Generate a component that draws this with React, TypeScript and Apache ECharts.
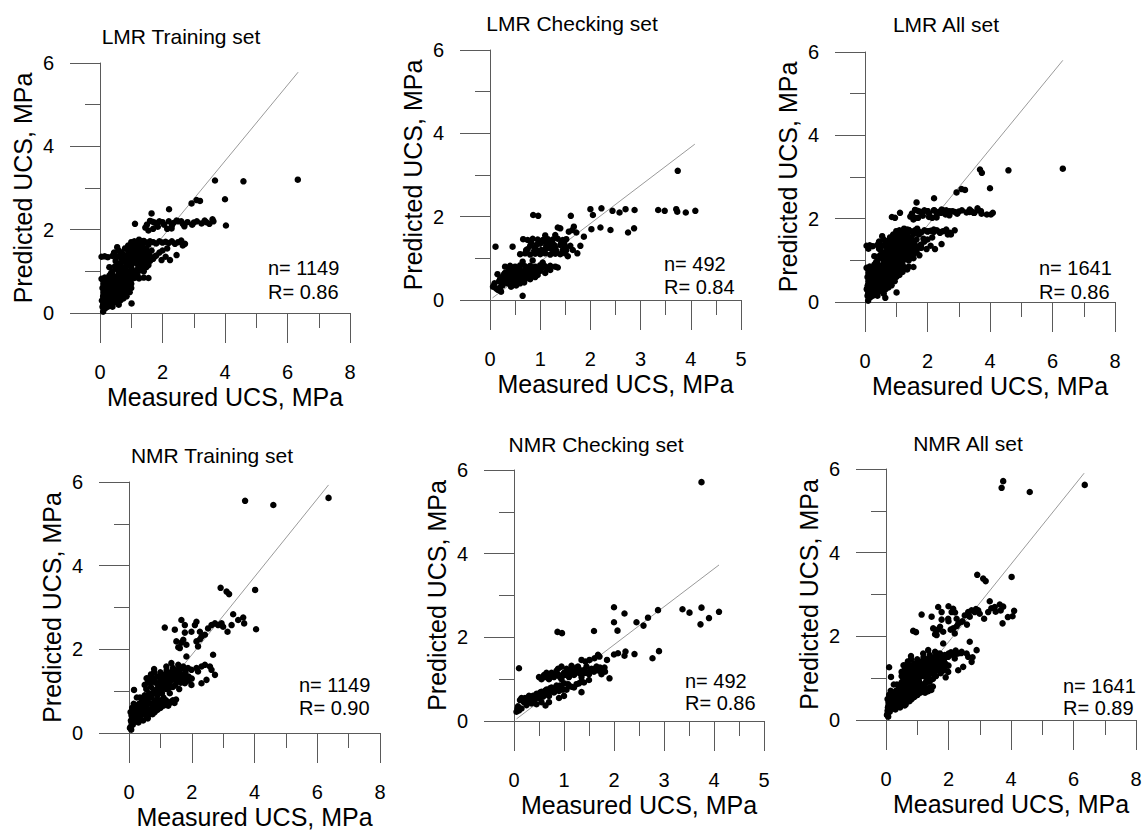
import React, { useEffect, useRef } from "react";
import * as echarts from "echarts";

const FONT = '"Liberation Sans", Arial, Helvetica, sans-serif';

// Measured vs predicted UCS (MPa)
const lmrTrain: number[][] = [
  [6.33, 3.2], [4.59, 3.16], [3.68, 3.18], [4.0, 2.73], [4.03, 2.1], [2.93, 2.63], [3.09, 2.71], [3.2, 2.69],
  [2.21, 2.49], [1.65, 2.39], [1.12, 2.14], [3.63, 2.2], [3.6, 2.25], [3.4, 2.18], [3.25, 2.15], [3.1, 2.2],
  [2.95, 2.12], [2.8, 2.18], [2.65, 2.14], [2.5, 2.2], [2.35, 2.16], [2.2, 2.2], [2.05, 2.12], [1.9, 2.2],
  [1.75, 2.17], [1.6, 2.21], [1.5, 2.12], [1.45, 2.05], [1.55, 1.98], [1.7, 2.02], [1.85, 2.07], [2.15, 2.02],
  [2.3, 2.1], [2.45, 2.22], [2.7, 2.08], [3.35, 2.22], [3.5, 2.14], [1.68, 2.19], [1.82, 2.14], [2.0, 2.18],
  [2.6, 2.2], [3.0, 2.17], [2.29, 2.03],
  [1.0, 1.7], [1.1, 1.72], [1.2, 1.68], [1.3, 1.71], [1.4, 1.73], [1.5, 1.69], [1.6, 1.72], [1.7, 1.7],
  [1.8, 1.67], [1.9, 1.72], [2.0, 1.69], [2.1, 1.71], [2.2, 1.68], [2.3, 1.72], [2.4, 1.66], [2.5, 1.7],
  [2.6, 1.74], [2.72, 1.66], [2.65, 1.62], [1.35, 1.62], [1.55, 1.64], [1.25, 1.76],
  [1.8, 1.38], [1.9, 1.45], [2.0, 1.5], [2.1, 1.35], [2.24, 1.27], [2.45, 1.39], [1.97, 1.27], [2.15, 1.55],
  [0.05, 1.35], [0.15, 1.36], [0.25, 1.34], [0.4, 1.37], [0.55, 1.35], [0.7, 1.36], [0.85, 1.33], [1.0, 1.36],
  [1.2, 1.35], [1.4, 1.37], [1.6, 1.34], [1.76, 1.36],
  [0.6, 1.5], [0.7, 1.45], [0.8, 1.55], [0.9, 1.5], [1.0, 1.58], [1.1, 1.5], [1.2, 1.45], [1.3, 1.55],
  [1.4, 1.5], [1.5, 1.45], [0.75, 1.25], [0.85, 1.2], [0.95, 1.3], [1.05, 1.25], [1.15, 1.2], [1.25, 1.3],
  [1.35, 1.25], [1.45, 1.2], [1.55, 1.15], [0.7, 1.1], [0.8, 1.05], [0.9, 1.15], [1.0, 1.1], [1.1, 1.0],
  [1.2, 1.05], [1.3, 1.1], [1.4, 1.0], [0.6, 0.95], [0.7, 0.9], [0.8, 0.98], [0.9, 0.92], [1.0, 0.95],
  [1.1, 0.88], [1.2, 0.9], [0.65, 1.2], [0.55, 1.05], [0.5, 1.25], [0.45, 1.45], [1.6, 1.25], [1.7, 1.3],
  [1.65, 1.5], [0.95, 1.6], [1.15, 1.62], [0.88, 1.4], [1.05, 1.42], [1.25, 1.4], [0.62, 1.38], [0.55, 1.58],
  [0.3, 1.1], [0.4, 1.0], [0.35, 0.95],
  [0.05, 0.82], [0.15, 0.85], [0.25, 0.8], [0.35, 0.84], [0.45, 0.86], [0.55, 0.83], [0.65, 0.81], [0.75, 0.85],
  [0.85, 0.82], [0.95, 0.86], [1.1, 0.84], [1.25, 0.83], [1.4, 0.85], [1.55, 0.84],
  [0.1, 0.2], [0.15, 0.3], [0.2, 0.25], [0.1, 0.4], [0.2, 0.45], [0.3, 0.35], [0.35, 0.5], [0.25, 0.6],
  [0.4, 0.4], [0.45, 0.6], [0.5, 0.5], [0.55, 0.7], [0.6, 0.55], [0.65, 0.65], [0.7, 0.75], [0.75, 0.6],
  [0.8, 0.7], [0.85, 0.55], [0.9, 0.68], [0.5, 0.3], [0.6, 0.4], [0.3, 0.7], [0.4, 0.75], [0.15, 0.6],
  [0.12, 0.7], [0.08, 0.15], [0.18, 0.12], [0.35, 0.2], [0.45, 0.25], [0.7, 0.45], [1.0, 0.6], [1.0, 0.7],
  [0.95, 0.5], [0.55, 0.3], [0.1, 0.03], [1.01, 0.23], [0.65, 0.3],
  [0.12, 0.5], [0.18, 0.38], [0.22, 0.55], [0.28, 0.42], [0.32, 0.62], [0.38, 0.3], [0.42, 0.52], [0.48, 0.68],
  [0.52, 0.42], [0.58, 0.6], [0.62, 0.78], [0.68, 0.52], [0.72, 0.66], [0.78, 0.5], [0.82, 0.78], [0.88, 0.62],
  [0.92, 0.8], [0.98, 0.75], [0.28, 0.78], [0.38, 0.65], [0.48, 0.8], [0.58, 0.88], [0.68, 0.95], [0.78, 0.9],
  [0.88, 1.0], [0.98, 1.02], [1.08, 0.95], [1.18, 0.98], [1.28, 1.02], [1.38, 1.08], [1.48, 1.1], [0.72, 1.02],
  [0.82, 1.12], [0.92, 1.22], [1.02, 1.18], [1.12, 1.28], [1.22, 1.15], [1.32, 1.18], [1.42, 1.28], [1.52, 1.32],
  [0.68, 1.32], [0.78, 1.38], [0.98, 1.45], [1.08, 1.35], [1.18, 1.55], [1.28, 1.48], [1.38, 1.42], [1.48, 1.55],
  [1.58, 1.4], [0.58, 1.15], [0.48, 1.12], [0.42, 0.9], [0.2, 0.7], [0.08, 0.6], [0.06, 0.3], [0.14, 0.1],
  [0.25, 0.15], [0.4, 0.15], [0.22, 0.35], [0.32, 0.25], [0.6, 0.2], [0.75, 0.35], [0.85, 0.4], [0.12, 0.82],
  [0.3, 0.9], [1.12, 1.62], [0.9, 1.62], [1.3, 1.65],
];

const lmrCheck: number[][] = [
  [0.86, 2.04], [0.96, 2.02], [1.61, 2.02], [2.0, 2.18], [2.22, 2.2], [2.05, 2.04], [2.44, 2.14], [2.58, 2.1],
  [2.7, 2.18], [2.88, 2.16], [3.35, 2.16], [3.48, 2.14], [3.71, 2.18], [3.73, 2.12], [3.9, 2.1], [4.09, 2.14],
  [3.74, 3.1], [2.02, 1.7], [2.2, 1.74], [2.4, 1.68], [2.75, 1.62], [2.87, 1.72], [1.87, 1.52], [1.8, 1.3],
  [1.74, 1.12], [1.64, 1.68], [1.67, 1.76], [1.57, 1.64], [1.4, 1.72], [1.35, 1.74], [1.72, 1.62],
  [0.66, 1.46], [0.75, 1.44], [0.85, 1.47], [0.95, 1.45], [1.05, 1.44], [1.15, 1.46], [1.25, 1.45], [1.35, 1.47],
  [1.45, 1.44], [1.52, 1.46], [1.1, 1.55], [1.3, 1.56],
  [0.6, 1.1], [0.7, 1.12], [0.8, 1.09], [0.9, 1.11], [1.0, 1.1], [1.1, 1.12], [1.2, 1.09], [1.3, 1.11],
  [1.4, 1.1], [1.5, 1.12], [1.55, 1.05],
  [0.8, 1.3], [0.9, 1.25], [1.0, 1.35], [1.1, 1.22], [1.2, 1.3], [1.3, 1.25], [1.4, 1.32], [1.5, 1.28],
  [0.95, 1.18], [1.15, 1.38], [1.25, 1.2], [1.45, 1.2], [1.6, 1.3], [1.65, 1.2], [0.75, 1.22],
  [0.11, 1.28], [0.45, 1.28],
  [0.3, 0.8], [0.4, 0.82], [0.5, 0.8], [0.6, 0.83], [0.7, 0.81], [0.8, 0.82], [0.9, 0.8], [1.0, 0.83],
  [1.1, 0.81], [1.2, 0.82], [1.3, 0.8], [1.35, 0.78], [1.05, 0.9], [0.85, 0.95], [0.65, 0.92],
  [0.2, 0.5], [0.25, 0.55], [0.3, 0.45], [0.35, 0.6], [0.4, 0.5], [0.45, 0.65], [0.5, 0.55], [0.55, 0.7],
  [0.6, 0.6], [0.65, 0.5], [0.7, 0.68], [0.75, 0.58], [0.8, 0.7], [0.85, 0.62], [0.9, 0.72], [0.95, 0.6],
  [1.0, 0.7], [1.1, 0.65], [1.2, 0.72], [0.35, 0.4], [0.45, 0.38], [0.55, 0.45], [0.6, 0.4], [0.7, 0.5],
  [0.3, 0.65], [0.4, 0.7], [0.5, 0.72], [0.25, 0.35], [0.15, 0.62], [0.65, 0.1], [0.06, 0.32], [0.09, 0.4],
  [0.16, 0.24], [0.12, 0.28], [0.22, 0.2], [0.2, 0.3], [0.8, 0.5], [0.9, 0.55],
  [0.22, 0.42], [0.28, 0.5], [0.32, 0.58], [0.38, 0.52], [0.42, 0.62], [0.48, 0.45], [0.52, 0.62], [0.58, 0.52],
  [0.62, 0.7], [0.68, 0.58], [0.72, 0.75], [0.78, 0.62], [0.82, 0.75], [0.88, 0.68], [0.92, 0.78], [0.98, 0.72],
  [1.05, 0.78], [1.15, 0.75], [0.38, 0.72], [0.48, 0.75], [0.58, 0.78], [0.28, 0.62], [0.18, 0.45], [0.42, 0.32],
  [0.52, 0.35], [0.68, 0.42], [0.78, 0.55], [0.72, 1.2], [0.82, 1.38], [0.92, 1.32], [1.02, 1.2], [1.12, 1.3],
  [1.22, 1.38], [1.32, 1.18], [1.42, 1.38], [1.52, 1.2], [0.88, 1.18], [1.08, 1.4], [1.28, 1.32], [1.48, 1.36],
  [0.98, 1.4], [1.18, 1.25],
];

const nmrTrain: number[][] = [
  [3.7, 5.55], [4.6, 5.45], [6.36, 5.62], [2.92, 3.47], [3.11, 3.38], [3.19, 3.32], [4.02, 3.42], [4.05, 2.48],
  [3.32, 2.84], [3.64, 2.76], [3.48, 2.7], [3.67, 2.62], [3.27, 2.58], [3.14, 2.42], [2.95, 2.62], [3.0, 2.54],
  [2.74, 2.62], [2.63, 2.58], [2.52, 2.5], [2.42, 2.35], [2.31, 2.3], [2.26, 2.42], [2.15, 2.66], [2.1, 2.58],
  [1.99, 2.42], [1.78, 2.4], [1.73, 2.23], [1.67, 2.16], [1.57, 2.05], [1.62, 2.03], [1.51, 2.19], [1.46, 2.47],
  [1.78, 2.58], [1.67, 2.7], [1.14, 2.52], [2.2, 2.07], [2.68, 1.87], [1.83, 1.83], [1.83, 2.11], [2.15, 2.19],
  [2.26, 2.24], [2.84, 2.58],
  [1.19, 1.59], [1.35, 1.67], [1.57, 1.63], [1.73, 1.59], [1.88, 1.55], [1.99, 1.51], [2.15, 1.55], [2.31, 1.59],
  [2.42, 1.63], [2.58, 1.59], [2.63, 1.51], [2.74, 1.39], [2.2, 1.47], [2.47, 1.27], [2.31, 1.19], [1.99, 1.15],
  [1.78, 1.19], [0.16, 1.03], [0.56, 1.31], [0.8, 1.53],
  [0.6, 1.2], [0.7, 1.1], [0.75, 1.3], [0.8, 1.0], [0.85, 1.2], [0.9, 1.35], [0.95, 1.1], [1.0, 1.25],
  [1.05, 0.95], [1.1, 1.15], [1.15, 1.4], [1.2, 1.05], [1.25, 1.3], [1.3, 1.2], [1.35, 1.45], [1.4, 1.1],
  [1.45, 1.35], [1.5, 1.25], [1.55, 1.45], [1.6, 1.3], [1.65, 1.2], [1.7, 1.4], [1.75, 1.3], [1.8, 1.45],
  [1.9, 1.35], [2.0, 1.3], [0.65, 0.95], [0.9, 0.9], [1.0, 1.45], [1.2, 1.5], [0.7, 1.4], [0.55, 1.05],
  [1.3, 0.95], [1.6, 1.05], [1.4, 1.55], [1.1, 0.85], [0.8, 1.45],
  [0.05, 0.15], [0.08, 0.25], [0.1, 0.35], [0.12, 0.2], [0.15, 0.45], [0.18, 0.55], [0.2, 0.3], [0.22, 0.65],
  [0.25, 0.4], [0.3, 0.5], [0.32, 0.7], [0.35, 0.35], [0.4, 0.6], [0.42, 0.45], [0.45, 0.75], [0.5, 0.55],
  [0.55, 0.4], [0.58, 0.68], [0.6, 0.8], [0.65, 0.55], [0.7, 0.7], [0.75, 0.45], [0.8, 0.62], [0.85, 0.78],
  [0.9, 0.55], [0.95, 0.7], [1.0, 0.6], [1.05, 0.75], [1.1, 0.65], [1.2, 0.7], [1.3, 0.72], [1.4, 0.78],
  [1.5, 0.8], [0.05, 0.5], [0.1, 0.6], [0.07, 0.08], [0.03, 0.12], [0.3, 0.25], [0.45, 0.3], [0.6, 0.35],
  [0.35, 0.85], [0.15, 0.7], [0.5, 0.9], [0.25, 0.85],
  [0.06, 0.3], [0.08, 0.42], [0.12, 0.55], [0.14, 0.3], [0.18, 0.42], [0.22, 0.5], [0.24, 0.28], [0.28, 0.6],
  [0.32, 0.4], [0.36, 0.55], [0.38, 0.72], [0.44, 0.5], [0.48, 0.65], [0.52, 0.48], [0.56, 0.6], [0.62, 0.72],
  [0.66, 0.45], [0.72, 0.58], [0.78, 0.72], [0.82, 0.5], [0.88, 0.68], [0.92, 0.62], [0.98, 0.78], [1.02, 0.68],
  [1.12, 0.72], [1.18, 0.78], [1.25, 0.65], [1.35, 0.75], [1.45, 0.72], [0.52, 0.8], [0.42, 0.82], [0.62, 0.92],
  [0.72, 0.85], [0.78, 0.95], [0.88, 1.05], [0.98, 0.98], [1.08, 1.05], [1.18, 1.18], [1.28, 1.08], [1.38, 1.28],
  [1.48, 1.15], [1.58, 1.38], [1.68, 1.32], [1.78, 1.4], [1.88, 1.25], [0.72, 1.22], [0.82, 1.3], [0.92, 1.18],
  [1.02, 1.35], [1.12, 1.28], [1.22, 1.42], [1.32, 1.35], [1.42, 1.42], [1.52, 1.5], [0.98, 1.12], [1.08, 1.22],
  [1.6, 1.5], [1.7, 1.55], [0.6, 1.3], [0.5, 1.15],
];

const nmrCheck: number[][] = [
  [3.75, 5.71], [2.0, 2.72], [2.21, 2.57], [2.0, 2.36], [2.07, 2.16], [2.45, 2.36], [2.59, 2.28], [2.68, 2.47],
  [2.88, 2.65], [3.37, 2.67], [3.51, 2.59], [3.75, 2.71], [3.73, 2.31], [3.9, 2.46], [4.1, 2.61],
  [0.87, 2.13], [0.96, 2.1], [1.6, 2.15],
  [2.0, 1.59], [2.08, 1.62], [2.21, 1.56], [2.23, 1.66], [2.41, 1.6], [2.77, 1.5], [2.9, 1.67],
  [1.86, 1.46], [1.81, 1.28], [1.91, 1.02], [1.78, 1.22], [1.68, 1.58], [1.61, 1.5], [1.71, 1.54], [1.51, 1.46],
  [1.43, 1.42], [1.35, 1.46], [0.1, 1.26], [1.35, 0.69], [0.63, 0.37],
  [0.5, 1.05], [0.6, 1.1], [0.7, 1.0], [0.75, 1.15], [0.8, 1.05], [0.85, 1.2], [0.9, 1.1], [0.95, 1.0],
  [1.0, 1.15], [1.05, 1.25], [1.1, 1.05], [1.15, 1.2], [1.2, 1.1], [1.25, 1.28], [1.3, 1.15], [1.35, 1.05],
  [1.4, 1.22], [1.45, 1.3], [1.5, 1.12], [1.55, 1.25], [1.6, 1.18], [1.65, 1.3], [1.7, 1.2], [1.75, 1.12],
  [0.95, 1.3], [1.15, 1.32], [0.65, 1.15],
  [0.05, 0.22], [0.07, 0.3], [0.1, 0.25], [0.12, 0.5], [0.15, 0.55], [0.2, 0.45], [0.25, 0.52], [0.3, 0.6],
  [0.35, 0.48], [0.4, 0.58], [0.45, 0.65], [0.5, 0.55], [0.55, 0.7], [0.6, 0.62], [0.65, 0.75], [0.7, 0.6],
  [0.75, 0.8], [0.8, 0.68], [0.85, 0.85], [0.9, 0.72], [0.95, 0.8], [1.0, 0.9], [1.05, 0.75], [1.1, 0.85],
  [1.2, 0.8], [1.3, 0.9], [1.4, 0.92], [1.5, 0.98], [0.35, 0.42], [0.55, 0.45], [0.45, 0.4], [0.25, 0.38],
  [0.7, 0.45], [0.9, 0.55], [1.0, 0.6], [0.08, 0.35], [0.15, 0.3],
  [0.18, 0.5], [0.22, 0.55], [0.28, 0.48], [0.32, 0.55], [0.38, 0.6], [0.42, 0.52], [0.48, 0.62], [0.52, 0.68],
  [0.58, 0.58], [0.62, 0.72], [0.68, 0.68], [0.72, 0.78], [0.78, 0.72], [0.82, 0.78], [0.88, 0.8], [0.92, 0.85],
  [0.98, 0.75], [1.08, 0.88], [1.15, 0.82], [1.25, 0.88], [1.35, 0.95], [0.55, 1.0], [0.62, 1.05], [0.72, 1.08],
  [0.82, 1.12], [0.92, 1.05], [1.02, 1.1], [1.12, 1.15], [1.22, 1.2], [1.32, 1.22], [1.42, 1.15], [1.52, 1.2],
  [1.62, 1.25], [1.72, 1.28], [1.82, 1.18], [0.88, 1.25], [1.08, 1.22], [1.28, 1.3],
];

// Fitted lines (start and end points)
const lineLmrTrain = [[0.05, 0.05], [6.34, 5.78]];
const lineLmrCheck = [[0.05, 0.05], [4.08, 3.74]];
const lineLmrAll = [[0.05, 0.05], [6.33, 5.8]];
const lineNmrTrain = [[0.05, 0.05], [6.36, 5.93]];
const lineNmrCheck = [[0.05, 0.05], [4.1, 3.73]];
const lineNmrAll = [[0.05, 0.05], [6.34, 5.9]];

const titles = ["LMR Training set", "LMR Checking set", "LMR All set", "NMR Training set", "NMR Checking set", "NMR All set"];
const nValues = [1149, 492, 1641, 1149, 492, 1641];
const rValues = ["0.86", "0.84", "0.86", "0.90", "0.86", "0.89"];
const xMaxes = [8, 5, 8, 8, 5, 8];
const xIntervals = [2, 1, 2, 2, 1, 2];

const X_NAME = "Measured UCS, MPa";
const Y_NAME = "Predicted UCS, MPa";

const grids = [
  { left: 100, top: 63, width: 250, height: 250 },
  { left: 490, top: 50, width: 251, height: 250 },
  { left: 865, top: 52, width: 250, height: 250 },
  { left: 129, top: 482, width: 251, height: 251 },
  { left: 514, top: 470, width: 250, height: 251 },
  { left: 886, top: 469, width: 250, height: 251 },
];
const titlePos = [[181, 36], [572, 23], [946, 24], [212, 455], [596, 444], [968, 443]];
const statPos = [[268, 268, 292], [664, 264, 287], [1039, 268, 292], [299, 685, 708], [685, 681, 703], [1063, 686, 708]];

export default function App() {
  const ref = useRef<HTMLDivElement>(null);
  useEffect(() => {
    if (!ref.current) return;
    const chart = echarts.init(ref.current, undefined, { renderer: "svg" });
    const datasets = [lmrTrain, lmrCheck, lmrTrain.concat(lmrCheck), nmrTrain, nmrCheck, nmrTrain.concat(nmrCheck)];
    const lines = [lineLmrTrain, lineLmrCheck, lineLmrAll, lineNmrTrain, lineNmrCheck, lineNmrAll];
    const axisColor = "#5a5a5a";
    const xAxis = grids.map((_, i) => ({
      type: "value",
      gridIndex: i,
      min: 0,
      max: xMaxes[i],
      interval: xIntervals[i],
      name: X_NAME,
      nameLocation: "middle",
      nameGap: 71,
      nameTextStyle: { fontSize: 25, color: "#000", fontFamily: FONT },
      axisLine: { show: true, onZero: false, lineStyle: { color: axisColor, width: 1 } },
      axisTick: { show: true, inside: false, length: 30, lineStyle: { color: axisColor, width: 1 } },
      minorTick: { show: true, splitNumber: 2, length: 15, lineStyle: { color: axisColor, width: 1 } },
      axisLabel: { fontSize: 20, color: "#000", fontFamily: FONT, margin: 49 },
      splitLine: { show: false },
      minorSplitLine: { show: false },
    }));
    const yAxis = grids.map((_, i) => ({
      type: "value",
      gridIndex: i,
      min: 0,
      max: 6,
      interval: 2,
      name: Y_NAME,
      nameLocation: "middle",
      nameGap: 65,
      nameTextStyle: { fontSize: 25, color: "#000", fontFamily: FONT },
      axisLine: { show: true, onZero: false, lineStyle: { color: axisColor, width: 1 } },
      axisTick: { show: true, inside: false, length: 30, lineStyle: { color: axisColor, width: 1 } },
      minorTick: { show: true, splitNumber: 2, length: 15, lineStyle: { color: axisColor, width: 1 } },
      axisLabel: { fontSize: 20, color: "#000", fontFamily: FONT, margin: 46 },
      splitLine: { show: false },
      minorSplitLine: { show: false },
    }));
    const series: any[] = [];
    grids.forEach((_, i) => {
      series.push({
        type: "line",
        xAxisIndex: i,
        yAxisIndex: i,
        data: lines[i],
        symbol: "none",
        lineStyle: { color: "#9a9a9a", width: 1 },
        silent: true,
        z: 1,
      });
      series.push({
        type: "scatter",
        xAxisIndex: i,
        yAxisIndex: i,
        data: datasets[i],
        symbol: "circle",
        symbolSize: 6.5,
        itemStyle: { color: "#000", opacity: 1 },
        z: 2,
      });
    });
    const graphic: any[] = [];
    titles.forEach((t, i) => {
      graphic.push({
        type: "text",
        x: titlePos[i][0],
        y: titlePos[i][1],
        style: { text: t, fontSize: 21, fill: "#000", fontFamily: FONT, align: "center", verticalAlign: "middle" },
      });
      graphic.push({
        type: "text",
        x: statPos[i][0],
        y: statPos[i][1],
        style: { text: "n= " + nValues[i], fontSize: 20, fill: "#000", fontFamily: FONT, align: "left", verticalAlign: "middle" },
      });
      graphic.push({
        type: "text",
        x: statPos[i][0],
        y: statPos[i][2],
        style: { text: "R= " + rValues[i], fontSize: 20, fill: "#000", fontFamily: FONT, align: "left", verticalAlign: "middle" },
      });
    });
    chart.setOption({
      animation: false,
      backgroundColor: "#fff",
      textStyle: { fontFamily: FONT },
      grid: grids.map((g) => ({ ...g, containLabel: false })),
      xAxis,
      yAxis,
      series,
      graphic,
    });
    return () => chart.dispose();
  }, []);
  return <div ref={ref} style={{ position: "absolute", left: 0, top: 0, width: 1145, height: 830 }} />;
}
